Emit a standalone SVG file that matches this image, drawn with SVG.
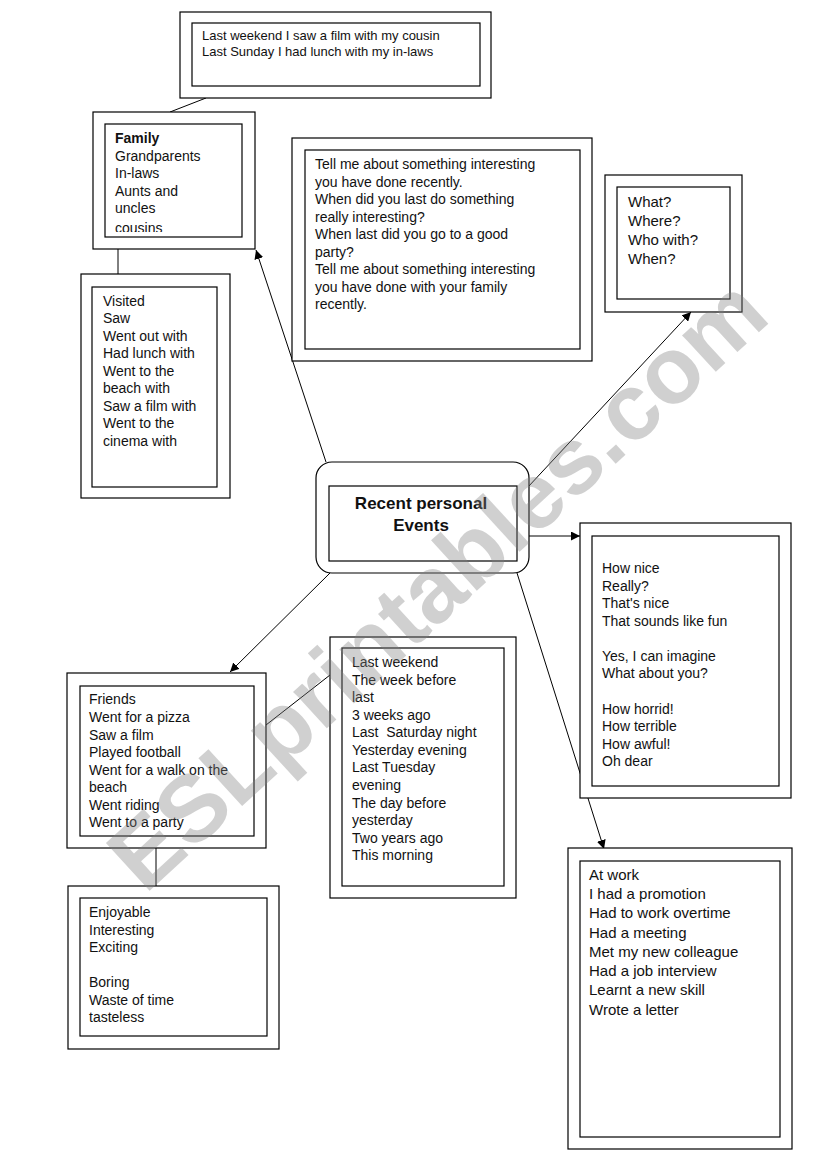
<svg xmlns="http://www.w3.org/2000/svg" width="821" height="1169" viewBox="0 0 821 1169">
<style>
.box{fill:#fff;stroke:#000;stroke-width:1.2}
.in{fill:none;stroke:#000;stroke-width:1.2}
.t{font-family:"Liberation Sans",Arial,sans-serif;font-size:14px;fill:#111}
.t13{font-size:13px}
.t15{font-size:15px}
.b{font-weight:bold}
.c{stroke:#000;stroke-width:1;fill:none}
.wm{font-family:"Liberation Sans",Arial,sans-serif;font-weight:bold;font-size:94px;fill:#808080;opacity:0.36}
</style>
<defs>
<marker id="ah" viewBox="0 0 10 10" refX="10" refY="5" markerWidth="9" markerHeight="9" markerUnits="userSpaceOnUse" orient="auto">
<path d="M0,0 L10,5 L0,10 z" fill="#000"/>
</marker>
</defs>
<rect width="821" height="1169" fill="#fff"/>

<g id="connectors">
<line class="c" x1="206" y1="98" x2="170" y2="112"/>
<line class="c" x1="118" y1="237" x2="118" y2="274"/>
<line class="c" x1="326" y1="462" x2="256" y2="250" marker-end="url(#ah)"/>
<line class="c" x1="528" y1="487" x2="691" y2="312" marker-end="url(#ah)"/>
<line class="c" x1="529" y1="536" x2="580" y2="536" marker-end="url(#ah)"/>
<line class="c" x1="517" y1="573" x2="604" y2="849" marker-end="url(#ah)"/>
<line class="c" x1="330" y1="573" x2="230" y2="672" marker-end="url(#ah)"/>
<line class="c" x1="266" y1="725" x2="330" y2="675"/>
<line class="c" x1="156" y1="836" x2="156" y2="886"/>
</g>

<g id="examples">
<rect class="box" x="180" y="12" width="311" height="86"/>
<rect class="in" x="192" y="23" width="288" height="63"/>
<text class="t t13" x="202" y="40">Last weekend I saw a film with my cousin</text>
<text class="t t13" x="202" y="56">Last Sunday I had lunch with my in-laws</text>
</g>

<g id="family">
<rect class="box" x="93" y="112" width="162" height="137"/>
<rect class="in" x="105" y="124" width="137" height="113"/>
<clipPath id="fc"><rect x="105" y="124" width="137" height="108"/></clipPath>
<g clip-path="url(#fc)">
<text class="t b" x="115" y="143">Family</text>
<text class="t" x="115" y="161">Grandparents</text>
<text class="t" x="115" y="178">In-laws</text>
<text class="t" x="115" y="196">Aunts and</text>
<text class="t" x="115" y="213">uncles</text>
<text class="t" x="115" y="233">cousins</text>
</g>
</g>

<g id="verbs">
<rect class="box" x="81" y="274" width="149" height="224"/>
<rect class="in" x="92" y="287" width="125" height="200"/>
<text class="t" x="103" y="306">Visited</text>
<text class="t" x="103" y="323">Saw</text>
<text class="t" x="103" y="341">Went out with</text>
<text class="t" x="103" y="358">Had lunch with</text>
<text class="t" x="103" y="376">Went to the</text>
<text class="t" x="103" y="393">beach with</text>
<text class="t" x="103" y="411">Saw a film with</text>
<text class="t" x="103" y="428">Went to the</text>
<text class="t" x="103" y="446">cinema with</text>
</g>

<g id="questions">
<rect class="box" x="292" y="138" width="300" height="223"/>
<rect class="in" x="305" y="150" width="275" height="199"/>
<text class="t" x="315" y="169">Tell me about something interesting</text>
<text class="t" x="315" y="187">you have done recently.</text>
<text class="t" x="315" y="204">When did you last do something</text>
<text class="t" x="315" y="222">really interesting?</text>
<text class="t" x="315" y="239">When last did you go to a good</text>
<text class="t" x="315" y="257">party?</text>
<text class="t" x="315" y="274">Tell me about something interesting</text>
<text class="t" x="315" y="292">you have done with your family</text>
<text class="t" x="315" y="309">recently.</text>
</g>

<g id="wh">
<rect class="box" x="605" y="175" width="137" height="137"/>
<rect class="in" x="617" y="187" width="113" height="112"/>
<text class="t t15" x="628" y="207">What?</text>
<text class="t t15" x="628" y="226">Where?</text>
<text class="t t15" x="628" y="245">Who with?</text>
<text class="t t15" x="628" y="264">When?</text>
</g>

<g id="center">
<rect class="box" x="316" y="462" width="213" height="111" rx="16" ry="16"/>
<rect class="in" x="329" y="486" width="188" height="75"/>
<text class="t b" x="421" y="509" text-anchor="middle" style="font-size:17px">Recent personal</text>
<text class="t b" x="421" y="531" text-anchor="middle" style="font-size:17px">Events</text>
</g>

<g id="reactions">
<rect class="box" x="580" y="523" width="211" height="275"/>
<rect class="in" x="592" y="536" width="187" height="250"/>
<text class="t" x="602" y="573">How nice</text>
<text class="t" x="602" y="591">Really?</text>
<text class="t" x="602" y="608">That's nice</text>
<text class="t" x="602" y="626">That sounds like fun</text>
<text class="t" x="602" y="661">Yes, I can imagine</text>
<text class="t" x="602" y="678">What about you?</text>
<text class="t" x="602" y="714">How horrid!</text>
<text class="t" x="602" y="731">How terrible</text>
<text class="t" x="602" y="749">How awful!</text>
<text class="t" x="602" y="766">Oh dear</text>
</g>

<g id="friends">
<rect class="box" x="67" y="673" width="199" height="175"/>
<rect class="in" x="80" y="686" width="174" height="150"/>
<text class="t" x="89" y="704">Friends</text>
<text class="t" x="89" y="722">Went for a pizza</text>
<text class="t" x="89" y="740">Saw a film</text>
<text class="t" x="89" y="757">Played football</text>
<text class="t" x="89" y="775">Went for a walk on the</text>
<text class="t" x="89" y="792">beach</text>
<text class="t" x="89" y="810">Went riding</text>
<text class="t" x="89" y="827">Went to a party</text>
</g>

<g id="time">
<rect class="box" x="330" y="637" width="186" height="261"/>
<rect class="in" x="342" y="648" width="162" height="238"/>
<text class="t" x="352" y="667">Last weekend</text>
<text class="t" x="352" y="685">The week before</text>
<text class="t" x="352" y="702">last</text>
<text class="t" x="352" y="720">3 weeks ago</text>
<text class="t" x="352" y="737" xml:space="preserve">Last  Saturday night</text>
<text class="t" x="352" y="755">Yesterday evening</text>
<text class="t" x="352" y="772">Last Tuesday</text>
<text class="t" x="352" y="790">evening</text>
<text class="t" x="352" y="808">The day before</text>
<text class="t" x="352" y="825">yesterday</text>
<text class="t" x="352" y="843">Two years ago</text>
<text class="t" x="352" y="860">This morning</text>
</g>

<g id="adjectives">
<rect class="box" x="68" y="886" width="211" height="163"/>
<rect class="in" x="80" y="898" width="187" height="138"/>
<text class="t" x="89" y="917">Enjoyable</text>
<text class="t" x="89" y="935">Interesting</text>
<text class="t" x="89" y="952">Exciting</text>
<text class="t" x="89" y="987">Boring</text>
<text class="t" x="89" y="1005">Waste of time</text>
<text class="t" x="89" y="1022">tasteless</text>
</g>

<g id="work">
<rect class="box" x="568" y="848" width="224" height="301"/>
<rect class="in" x="580" y="861" width="200" height="276"/>
<text class="t t15" x="589" y="880">At work</text>
<text class="t t15" x="589" y="899">I had a promotion</text>
<text class="t t15" x="589" y="918">Had to work overtime</text>
<text class="t t15" x="589" y="938">Had a meeting</text>
<text class="t t15" x="589" y="957">Met my new colleague</text>
<text class="t t15" x="589" y="976">Had a job interview</text>
<text class="t t15" x="589" y="995">Learnt a new skill</text>
<text class="t t15" x="589" y="1015">Wrote a letter</text>
</g>

<text class="wm" transform="translate(145,895) rotate(-42.5)">ESLprintables.com</text>
</svg>
